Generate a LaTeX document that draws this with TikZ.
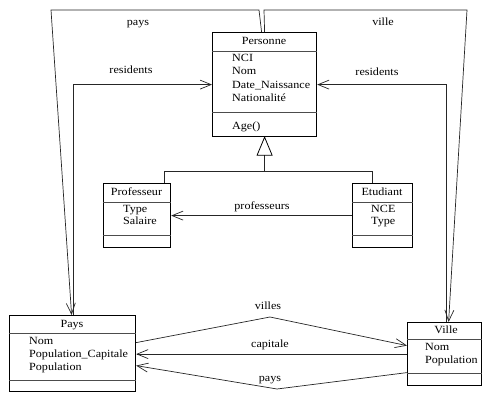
\documentclass[tikz,border=0pt]{standalone}
\usepackage{fontspec}
\setmainfont{Liberation Serif}[FakeStretch=1.1]
\usetikzlibrary{arrows.meta}
\begin{document}
\begin{tikzpicture}[x=1pt,y=-1pt,
  txt/.style={font=\fontsize{11}{13}\selectfont, inner sep=0pt, text height=7.5pt, text depth=2pt},
  attr/.style={txt, anchor=west},
  umlbox/.style={draw=black, line width=1.2pt, fill=white, anchor=north west, inner sep=0pt},
  sepline/.style={draw=black!70, line width=0.8pt},
  conn/.style={draw=black!85, line width=0.7pt},
  assoc/.style={conn, -{Straight Barb[length=11pt,width=9pt,line width=0.7pt]}},
  gen/.style={draw=black, line width=0.8pt, fill=white}]
\useasboundingbox (0,0) rectangle (482,392);

% ---- boxes
\node[umlbox, minimum width=104pt, minimum height=104pt] (pers) at (212,32) {};
\draw[sepline] (pers.west |- 0,51) -- (pers.east |- 0,51);
\draw[sepline] (pers.west |- 0,112) -- (pers.east |- 0,112);
\node[txt] (persT) at (264,42) {Personne};
\node[attr] (pa1) at (232,59) {NCI};
\node[attr] (pa2) at (232,72) {Nom};
\node[attr] (pa3) at (232,86) {Date\_Naissance};
\node[attr] (pa4) at (232,99) {Nationalité};
\node[attr] (pm1) at (232,127) {Age()};

\node[umlbox, minimum width=67pt, minimum height=64pt] (prof) at (103,183) {};
\draw[sepline] (prof.west |- 0,202) -- (prof.east |- 0,202);
\draw[sepline] (prof.west |- 0,235) -- (prof.east |- 0,235);
\node[txt] (profT) at (136.5,193) {Professeur};
\node[attr] (pr1) at (123,210) {Type};
\node[attr] (pr2) at (123,222) {Salaire};

\node[umlbox, minimum width=60pt, minimum height=64pt] (etud) at (352,183) {};
\draw[sepline] (etud.west |- 0,202) -- (etud.east |- 0,202);
\draw[sepline] (etud.west |- 0,235) -- (etud.east |- 0,235);
\node[txt] (etudT) at (382,193) {Etudiant};
\node[attr] (et1) at (371,210) {NCE};
\node[attr] (et2) at (371,222) {Type};

\node[umlbox, minimum width=126pt, minimum height=76pt] (pays) at (9,315) {};
\draw[sepline] (pays.west |- 0,333) -- (pays.east |- 0,333);
\draw[sepline] (pays.west |- 0,380) -- (pays.east |- 0,380);
\node[txt] (paysT) at (72,325) {Pays};
\node[attr] (py1) at (29,342) {Nom};
\node[attr] (py2) at (29,355) {Population\_Capitale};
\node[attr] (py3) at (29,368) {Population};

\node[umlbox, minimum width=74pt, minimum height=63pt] (ville) at (407,322) {};
\draw[sepline] (ville.west |- 0,339) -- (ville.east |- 0,339);
\draw[sepline] (ville.west |- 0,373) -- (ville.east |- 0,373);
\node[txt] (villeT) at (446,331) {Ville};
\node[attr] (vi1) at (425,348) {Nom};
\node[attr] (vi2) at (425,361) {Population};

% ---- generalization
\coordinate (gbase) at ([yshift=-18pt]pers.south);
\coordinate (gjoin) at ([yshift=-34pt]pers.south);
\coordinate (gprof) at ([xshift=27.5pt]prof.north);
\coordinate (getud) at ([xshift=-10pt]etud.north);
\draw[conn] (gbase) -- (gjoin);
\draw[conn] (gprof) -- (gprof |- gjoin) -- (getud |- gjoin) -- (getud);
\draw[gen] (pers.south) -- ([xshift=-7.5pt]gbase) -- ([xshift=7.5pt]gbase) -- cycle;

% ---- professeurs
\draw[assoc] (etud.west) -- (prof.east);
\node[txt] (lprof) at (262,207) {professeurs};

% ---- top associations
\coordinate (pTop1) at ([xshift=-3pt]pers.north);
\coordinate (pTop2) at (pers.north);
\coordinate (payEndA) at ([xshift=-1pt]pays.north);
\coordinate (payEndB) at ([xshift=1pt]pays.north);
\coordinate (vilEndA) at ([xshift=4pt]ville.north);
\coordinate (vilEndB) at ([xshift=2pt]ville.north);
\coordinate (c1) at (259,10);
\coordinate (c2) at (51,10);
\coordinate (c3) at (264,10);
\coordinate (c4) at (467,10);

\draw[assoc] (pTop1) -- (c1) -- (c2) -- (payEndA);
\node[txt] (lpays1) at (138,23) {pays};
\draw[assoc] (pTop2) -- (c3) -- (c4) -- (vilEndA);
\node[txt] (lville) at (383,23) {ville};

\draw[assoc] (payEndB) -- (payEndB |- pers.west) -- (pers.west);
\node[txt] (lres1) at (131,71) {residents};
\draw[assoc] (vilEndB) -- (vilEndB |- pers.east) -- (pers.east);
\node[txt] (lres2) at (377,73) {residents};

% ---- bottom associations
\coordinate (vs) at ([yshift=11pt]pays.east);
\coordinate (vm) at (270,317);
\coordinate (ve) at ([yshift=8.5pt]ville.west);
\draw[assoc] (vs) -- (vm) -- (ve);
\node[txt] (lvilles) at (268,307) {villes};

\draw[assoc] (ville.west) -- (ville.west -| pays.east);
\node[txt] (lcap) at (270,345) {capitale};

\coordinate (ps) at ([yshift=-18.5pt]ville.west);
\coordinate (pm) at (277,389);
\coordinate (pe) at ([yshift=-12pt]pays.east);
\draw[assoc] (ps) -- (pm) -- (pe);
\node[txt] (lpays2) at (270,379) {pays};
\end{tikzpicture}
\end{document}
